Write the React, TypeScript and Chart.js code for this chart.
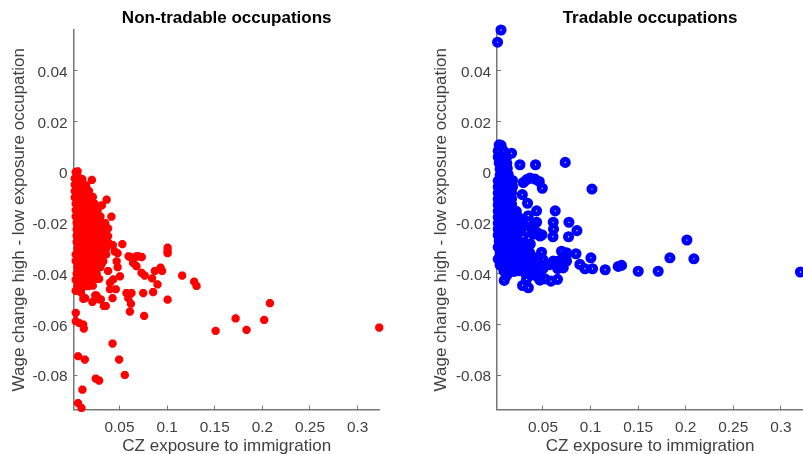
import React, { useEffect, useRef } from "react";
import { Chart, registerables } from "chart.js";

Chart.register(...registerables);

const xTicks = [0.05, 0.1, 0.15, 0.2, 0.25, 0.3];
const yTicks = [0.04, 0.02, 0, -0.02, -0.04, -0.06, -0.08];
const xLabel = "CZ exposure to immigration";
const yLabel = "Wage change high - low exposure occupation";

const nonTradable: number[][] = [
  [0.004, 0], [0.006, 0.0003], [0.003, -0.0025], [0.007, -0.002], [0.011, -0.0028],
  [0.003, -0.005], [0.008, -0.005], [0.012, -0.005], [0.015, -0.0052], [0.021, -0.0031],
  [0.003, -0.0075], [0.008, -0.0075], [0.013, -0.0078], [0.018, -0.0075],
  [0.003, -0.01], [0.008, -0.01], [0.013, -0.01], [0.018, -0.0102], [0.022, -0.0098],
  [0.004, -0.0125], [0.009, -0.0125], [0.014, -0.0122], [0.019, -0.0128], [0.024, -0.0125], [0.0365, -0.0109], [0.0315, -0.0131],
  [0.004, -0.015], [0.009, -0.015], [0.014, -0.0152], [0.02, -0.0148], [0.027, -0.015],
  [0.004, -0.0175], [0.01, -0.0175], [0.016, -0.0178], [0.022, -0.0172], [0.03, -0.0175], [0.0415, -0.0176],
  [0.005, -0.02], [0.011, -0.02], [0.017, -0.0203], [0.023, -0.0198], [0.029, -0.02], [0.035, -0.0201],
  [0.005, -0.0225], [0.011, -0.0225], [0.017, -0.0228], [0.023, -0.0222], [0.03, -0.0225], [0.036, -0.0228], [0.038, -0.0222],
  [0.005, -0.025], [0.011, -0.025], [0.017, -0.0252], [0.023, -0.0248], [0.03, -0.025], [0.038, -0.0252],
  [0.005, -0.0275], [0.011, -0.0275], [0.017, -0.0278], [0.023, -0.0272], [0.03, -0.0275], [0.038, -0.0277],
  [0.006, -0.03], [0.012, -0.03], [0.018, -0.0303], [0.024, -0.0298], [0.03, -0.03], [0.036, -0.0302], [0.043, -0.0288], [0.053, -0.0284],
  [0.004, -0.0325], [0.01, -0.0325], [0.016, -0.0328], [0.022, -0.0322], [0.028, -0.0325], [0.036, -0.0325], [0.045, -0.0313], [0.048, -0.032],
  [0.004, -0.035], [0.01, -0.035], [0.016, -0.0352], [0.022, -0.0348], [0.028, -0.035], [0.033, -0.0352], [0.047, -0.0352],
  [0.006, -0.0375], [0.012, -0.0375], [0.018, -0.0378], [0.024, -0.0372], [0.03, -0.0375], [0.048, -0.0375], [0.038, -0.039],
  [0.005, -0.04], [0.011, -0.04], [0.017, -0.0402], [0.022, -0.0398], [0.026, -0.04],
  [0.004, -0.0425], [0.009, -0.0425], [0.015, -0.0428], [0.021, -0.0422], [0.027, -0.0421],
  [0.006, -0.045], [0.012, -0.0452], [0.017, -0.045], [0.022, -0.0448],
  [0.008, -0.0138], [0.014, -0.0138], [0.02, -0.0137], [0.007, -0.0163], [0.013, -0.0163], [0.019, -0.0162], [0.025, -0.0163],
  [0.008, -0.0188], [0.014, -0.0188], [0.02, -0.0188], [0.026, -0.0188], [0.008, -0.0213], [0.014, -0.0213], [0.02, -0.0213], [0.027, -0.0213], [0.033, -0.0213],
  [0.008, -0.0238], [0.014, -0.0238], [0.02, -0.0238], [0.027, -0.0238], [0.034, -0.0238], [0.008, -0.0263], [0.014, -0.0263], [0.02, -0.0263], [0.027, -0.0263], [0.034, -0.0263],
  [0.009, -0.0288], [0.015, -0.0288], [0.021, -0.0288], [0.027, -0.0288], [0.034, -0.0288], [0.009, -0.0313], [0.015, -0.0313], [0.021, -0.0313], [0.027, -0.0313], [0.033, -0.0313],
  [0.007, -0.0338], [0.013, -0.0338], [0.019, -0.0338], [0.025, -0.0338], [0.031, -0.0338], [0.007, -0.0363], [0.013, -0.0363], [0.019, -0.0363], [0.025, -0.0363], [0.031, -0.0363],
  [0.009, -0.0388], [0.015, -0.0388], [0.021, -0.0388], [0.008, -0.0413], [0.014, -0.0413], [0.02, -0.0413], [0.009, -0.0438], [0.015, -0.0438],
  [0.004, -0.0468], [0.0095, -0.0475], [0.012, -0.05], [0.014, -0.0497],
  [0.0245, -0.0486], [0.0285, -0.0502], [0.0335, -0.0528], [0.0215, -0.0512],
  [0.0505, -0.0411], [0.0595, -0.0332], [0.0625, -0.0337], [0.07, -0.0332],
  [0.1005, -0.0298], [0.1005, -0.0311], [0.1005, -0.032], [0.0678, -0.0332],
  [0.0613, -0.0335], [0.0646, -0.0339], [0.0734, -0.0335],
  [0.0643, -0.0358], [0.0678, -0.0371], [0.0731, -0.0397], [0.0765, -0.0408],
  [0.0931, -0.0377], [0.0947, -0.039], [0.0871, -0.039], [0.0842, -0.0419], [0.0899, -0.0443], [0.0853, -0.0473],
  [0.1158, -0.0408], [0.1284, -0.0432], [0.1309, -0.0449], [0.0749, -0.0477], [0.1005, -0.0503],
  [0.0573, -0.0477], [0.0626, -0.0477], [0.0592, -0.0497], [0.062, -0.0519], [0.0609, -0.055], [0.0759, -0.0567],
  [0.0434, -0.0423], [0.04, -0.0436], [0.04, -0.0462], [0.0461, -0.0462], [0.0427, -0.0497],
  [0.0286, -0.0421],
  [0.0258, -0.0486], [0.0304, -0.0502], [0.0356, -0.0528],
  [0.0041, -0.0555], [0.0041, -0.0588], [0.0118, -0.0601], [0.0125, -0.0617], [0.0076, -0.0595],
  [0.0427, -0.0676], [0.0065, -0.0726], [0.0136, -0.0739], [0.0496, -0.0739], [0.0556, -0.08],
  [0.0251, -0.0814], [0.0286, -0.0822], [0.0111, -0.0858], [0.0065, -0.0911], [0.0101, -0.093],
  [0.1509, -0.0626], [0.1719, -0.0577], [0.1834, -0.0622], [0.2019, -0.0583], [0.2079, -0.0517], [0.3227, -0.0613],
];

const tradable: number[][] = [
  [0.0059, 0.056], [0.0023, 0.0512],
  [0.004, 0.0107], [0.006, 0.0105], [0.003, 0.0083], [0.0085, 0.0083],
  [0.003, 0.0059], [0.008, 0.0059], [0.0115, 0.0056], [0.017, 0.0074],
  [0.004, 0.0036], [0.009, 0.0036], [0.012, 0.0034], [0.0258, 0.0029], [0.0422, 0.0029], [0.0734, 0.0038],
  [0.005, 0.0012], [0.0095, 0.0012], [0.0125, 0.0014],
  [0.005, -0.0012], [0.0095, -0.0012], [0.0135, -0.001],
  [0.003, -0.0035], [0.008, -0.0035], [0.013, -0.0035], [0.018, -0.0033], [0.0363, -0.0024], [0.0416, -0.0028], [0.0461, -0.0037], [0.0493, -0.0064], [0.0293, -0.0041], [0.033, -0.003],
  [0.003, -0.0059], [0.008, -0.0059], [0.013, -0.006], [0.018, -0.0058], [0.1015, -0.0067], [0.0283, -0.0089],
  [0.003, -0.0083], [0.008, -0.0083], [0.013, -0.0085], [0.017, -0.0082],
  [0.003, -0.0107], [0.008, -0.0107], [0.013, -0.0108], [0.017, -0.0105], [0.0338, -0.0123],
  [0.003, -0.013], [0.008, -0.013], [0.013, -0.0131], [0.017, -0.0128],
  [0.003, -0.0154], [0.008, -0.0154], [0.013, -0.0155], [0.018, -0.0152], [0.022, -0.0155], [0.0433, -0.0153], [0.0629, -0.0153],
  [0.003, -0.0178], [0.008, -0.0178], [0.013, -0.018], [0.018, -0.0176], [0.024, -0.0178], [0.0346, -0.0172],
  [0.003, -0.0202], [0.008, -0.0202], [0.013, -0.0203], [0.018, -0.02], [0.023, -0.0202], [0.029, -0.0204], [0.0433, -0.0198], [0.039, -0.021], [0.0608, -0.0198], [0.0773, -0.0198],
  [0.003, -0.0225], [0.008, -0.0225], [0.013, -0.0227], [0.018, -0.0224], [0.023, -0.0226], [0.027, -0.0226], [0.0611, -0.0225], [0.0857, -0.0231],
  [0.003, -0.0249], [0.008, -0.0249], [0.013, -0.025], [0.018, -0.0248], [0.0489, -0.0247], [0.0437, -0.0238], [0.0605, -0.0255], [0.0769, -0.0255], [0.047, -0.0252],
  [0.004, -0.0272], [0.009, -0.0272], [0.014, -0.0274], [0.019, -0.027], [0.023, -0.0272],
  [0.003, -0.0296], [0.008, -0.0296], [0.013, -0.0298], [0.018, -0.0295], [0.023, -0.0297], [0.031, -0.0297], [0.0367, -0.0284], [0.034, -0.0285],
  [0.005, -0.0319], [0.01, -0.0319], [0.015, -0.032], [0.02, -0.0318], [0.025, -0.0319], [0.03, -0.032], [0.036, -0.0318], [0.0485, -0.0316], [0.0695, -0.0312], [0.0748, -0.0318], [0.0847, -0.0322], [0.1004, -0.0338],
  [0.003, -0.0343], [0.008, -0.0343], [0.013, -0.0345], [0.018, -0.0342], [0.023, -0.0344], [0.028, -0.0343], [0.034, -0.0345], [0.04, -0.0342],
  [0.005, -0.0367], [0.01, -0.0367], [0.015, -0.0369], [0.02, -0.0366], [0.025, -0.0368], [0.03, -0.0367], [0.035, -0.0369], [0.042, -0.0366],
  [0.0538, -0.0364], [0.0608, -0.0351], [0.0661, -0.0351], [0.0748, -0.0351], [0.0713, -0.0378], [0.0675, -0.037], [0.0888, -0.0364], [0.0941, -0.0381], [0.1021, -0.0381],
  [0.009, -0.039], [0.014, -0.039], [0.019, -0.0392], [0.024, -0.0389], [0.0311, -0.0397], [0.036, -0.039],
  [0.0055, 0.0047], [0.0065, 0.0024], [0.0075, 0], [0.0055, -0.0023], [0.0105, -0.0024], [0.0055, -0.0047], [0.0105, -0.0047], [0.0155, -0.0047],
  [0.0055, -0.0071], [0.0105, -0.0071], [0.0148, -0.0071], [0.0055, -0.0095], [0.0105, -0.0095], [0.0148, -0.0095], [0.0055, -0.0118], [0.0105, -0.0118], [0.0148, -0.0118],
  [0.0055, -0.0142], [0.0105, -0.0142], [0.0155, -0.0142], [0.0055, -0.0166], [0.0105, -0.0166], [0.0155, -0.0166], [0.0205, -0.0166], [0.0055, -0.019], [0.0105, -0.019], [0.0155, -0.019], [0.021, -0.019], [0.026, -0.019],
  [0.0055, -0.0213], [0.0105, -0.0213], [0.0155, -0.0213], [0.0205, -0.0213], [0.0255, -0.0213], [0.0055, -0.0237], [0.0105, -0.0237], [0.0155, -0.0237], [0.0205, -0.0237],
  [0.0055, -0.026], [0.0105, -0.026], [0.0155, -0.026], [0.0205, -0.026], [0.0065, -0.0284], [0.0115, -0.0284], [0.0165, -0.0284], [0.0215, -0.0284], [0.0055, -0.0308], [0.0105, -0.0308], [0.0155, -0.0308], [0.0205, -0.0308], [0.0255, -0.0308], [0.031, -0.0308],
  [0.0055, -0.0331], [0.0105, -0.0331], [0.0155, -0.0331], [0.0205, -0.0331], [0.0255, -0.0331], [0.031, -0.0331], [0.037, -0.0331], [0.0075, -0.0355], [0.0125, -0.0355], [0.0175, -0.0355], [0.0225, -0.0355], [0.0275, -0.0355], [0.0325, -0.0355], [0.038, -0.0355],
  [0.0115, -0.0379], [0.0165, -0.0379], [0.0215, -0.0379], [0.0265, -0.0379], [0.0335, -0.0379], [0.039, -0.0379],
  [0.045, -0.0335], [0.05, -0.0345], [0.045, -0.037], [0.05, -0.038], [0.057, -0.0365], [0.063, -0.0365], [0.07, -0.0365], [0.074, -0.0335], [0.04, -0.0395], [0.044, -0.0395], [0.0655, -0.038],
  [0.0385, -0.0225], [0.033, -0.0235], [0.0395, -0.0245], [0.029, -0.0255],
  [0.1154, -0.0385], [0.1291, -0.0372], [0.1326, -0.0368], [0.1501, -0.0391], [0.1711, -0.0391], [0.1834, -0.0338], [0.2013, -0.0268], [0.2086, -0.0342], [0.3206, -0.0394],
  [0.0653, -0.0423], [0.0584, -0.043], [0.0521, -0.0421], [0.0468, -0.0426], [0.0433, -0.041], [0.0346, -0.0456], [0.0286, -0.0447], [0.0328, -0.0423], [0.0093, -0.0427], [0.0118, -0.0408], [0.038, -0.0405],
];

const xRange = [0.0017, 0.3234];
const yRange = [-0.0936, 0.056];

function makeConfig(title: string, points: number[][], kind: "red" | "blue", areaLeft: number, yTitlePad: number): any {
  const dataset =
    kind === "red"
      ? { pointStyle: "star", pointRadius: 4.1, pointBorderWidth: 3, pointBorderColor: "#ff0000", pointBackgroundColor: "#ff0000" }
      : { pointStyle: "circle", pointRadius: 3.1, pointBorderWidth: 4.9, pointBorderColor: "#0000ff", pointBackgroundColor: "rgba(0,0,0,0)" };
  const tickFont = { family: "'Liberation Sans'", size: 15.4 };
  const titleFont = { family: "'Liberation Sans'", size: 17, weight: "normal", lineHeight: 1.2 };
  return {
    type: "scatter",
    data: {
      datasets: [{ data: points.map(([x, y]) => ({ x, y })), showLine: false, clip: false, ...dataset }],
    },
    options: {
      animation: false,
      responsive: false,
      layout: { padding: { left: 0, right: 0, top: 0, bottom: 0 } },
      plugins: {
        legend: { display: false },
        tooltip: { enabled: false },
        title: {
          display: true,
          text: title,
          fullSize: false,
          color: "#000000",
          font: { family: "'Liberation Sans'", size: 17, weight: "bold", lineHeight: 1.2 },
          padding: { top: 8, bottom: 1.6 },
        },
      },
      scales: {
        x: {
          type: "linear",
          min: xRange[0],
          max: xRange[1],
          afterBuildTicks: (s: any) => { s.ticks = xTicks.map((value) => ({ value })); },
          afterFit: (s: any) => { s.height = 44.5; s.paddingLeft = 0; s.paddingRight = 0; },
          grid: { drawOnChartArea: false, tickLength: -4, color: "#777777", lineWidth: 1 },
          border: { color: "#777777", width: 1.5 },
          ticks: { color: "#404040", font: tickFont, padding: 13, autoSkip: false, maxRotation: 0, callback: (v: any) => String(v) },
          title: { display: true, text: xLabel, color: "#404040", font: titleFont, padding: { top: 0, bottom: -3 } },
        },
        y: {
          type: "linear",
          min: yRange[0],
          max: yRange[1],
          afterBuildTicks: (s: any) => { s.ticks = yTicks.map((value) => ({ value })); },
          afterFit: (s: any) => { s.width = areaLeft; s.paddingTop = 0; s.paddingBottom = 0; },
          grid: { drawOnChartArea: false, tickLength: -4, color: "#777777", lineWidth: 1 },
          border: { color: "#777777", width: 1.5 },
          ticks: { color: "#404040", font: tickFont, padding: 10, labelOffset: 2, autoSkip: false, callback: (v: any) => String(v) },
          title: { display: true, text: yLabel, color: "#404040", font: titleFont, padding: { top: yTitlePad, bottom: 0 } },
        },
      },
    },
  };
}

function Panel({ left, title, points, kind, areaLeft, width, yTitlePad }: any) {
  const ref = useRef<HTMLCanvasElement>(null);
  useEffect(() => {
    const chart = new Chart(ref.current as HTMLCanvasElement, makeConfig(title, points, kind, areaLeft, yTitlePad));
    return () => chart.destroy();
  }, []);
  return (
    <canvas
      ref={ref}
      width={width}
      height={454}
      style={{ position: "absolute", left, top: 0, width, height: 454 }}
    />
  );
}

export default function App() {
  return (
    <div style={{ position: "fixed", left: 0, top: 0, width: 803, height: 454, overflow: "hidden", background: "#fff" }}>
      <Panel left={0} width={387} title="Non-tradable occupations" points={nonTradable} kind="red" areaLeft={73.5} yTitlePad={8.8} />
      <Panel left={403} width={409} title="Tradable occupations" points={tradable} kind="blue" areaLeft={94} yTitlePad={27.8} />
    </div>
  );
}
